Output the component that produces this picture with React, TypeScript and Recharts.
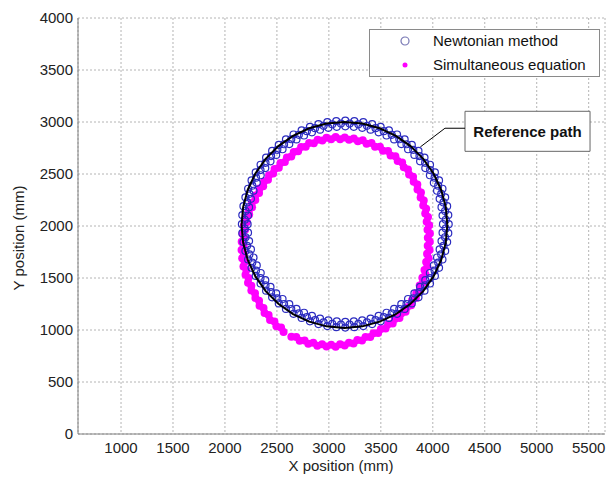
import { ScatterChart, Scatter, XAxis, YAxis, CartesianGrid, ReferenceArea, ReferenceLine, Legend } from 'recharts';

// values, in mm
const xTicks = [1000, 1500, 2000, 2500, 3000, 3500, 4000, 4500, 5000, 5500];
const yTicks = [0, 500, 1000, 1500, 2000, 2500, 3000, 3500, 4000];

const referencePath: [number, number][] = [
  [4140, 2010], [4125, 2182], [4080, 2349], [4007, 2505], [3908, 2646], [3786, 2768],
  [3645, 2867], [3489, 2940], [3322, 2985], [3150, 3000], [2978, 2985], [2811, 2940],
  [2655, 2867], [2514, 2768], [2392, 2646], [2293, 2505], [2220, 2349], [2175, 2182],
  [2160, 2010], [2175, 1838], [2220, 1671], [2293, 1515], [2392, 1374], [2514, 1252],
  [2655, 1153], [2811, 1080], [2978, 1035], [3150, 1020], [3322, 1035], [3489, 1080],
  [3645, 1153], [3786, 1252], [3908, 1374], [4007, 1515], [4080, 1671], [4125, 1838],
  [4140, 2010],
];

const newtonianOuter: [number, number][] = [
  [4153, 2018], [4149, 2105], [4138, 2191], [4119, 2276], [4093, 2358], [4060, 2438],
  [4020, 2516], [3973, 2589], [3920, 2658], [3862, 2722], [3798, 2780], [3729, 2833],
  [3656, 2880], [3578, 2920], [3498, 2953], [3416, 2979], [3331, 2998], [3245, 3009],
  [3158, 3013], [3071, 3009], [2985, 2998], [2900, 2979], [2818, 2953], [2738, 2920],
  [2660, 2880], [2587, 2833], [2518, 2780], [2454, 2722], [2396, 2658], [2343, 2589],
  [2296, 2516], [2256, 2438], [2223, 2358], [2197, 2276], [2178, 2191], [2167, 2105],
  [2163, 2018], [2167, 1931], [2178, 1845], [2197, 1760], [2223, 1678], [2256, 1598],
  [2296, 1520], [2343, 1447], [2396, 1378], [2454, 1314], [2518, 1256], [2587, 1203],
  [2660, 1156], [2738, 1116], [2818, 1083], [2900, 1057], [2985, 1038], [3071, 1027],
  [3158, 1023], [3245, 1027], [3331, 1038], [3416, 1057], [3498, 1083], [3578, 1116],
  [3656, 1156], [3729, 1203], [3798, 1256], [3862, 1314], [3920, 1378], [3973, 1447],
  [4020, 1520], [4060, 1598], [4093, 1678], [4119, 1760], [4138, 1845], [4149, 1931],
];

const newtonianMid: [number, number][] = [
  [4125, 2060], [4118, 2144], [4103, 2227], [4081, 2309], [4052, 2388], [4017, 2465],
  [3974, 2538], [3926, 2607], [3872, 2672], [3812, 2732], [3747, 2786], [3678, 2834],
  [3605, 2877], [3528, 2912], [3449, 2941], [3367, 2963], [3284, 2978], [3200, 2985],
  [3116, 2985], [3032, 2978], [2949, 2963], [2867, 2941], [2788, 2912], [2711, 2877],
  [2638, 2834], [2569, 2786], [2504, 2732], [2444, 2672], [2390, 2607], [2342, 2538],
  [2299, 2465], [2264, 2388], [2235, 2309], [2213, 2227], [2198, 2144], [2191, 2060],
  [2191, 1976], [2198, 1892], [2213, 1809], [2235, 1727], [2264, 1648], [2299, 1571],
  [2342, 1498], [2390, 1429], [2444, 1364], [2504, 1304], [2569, 1250], [2638, 1202],
  [2711, 1159], [2788, 1124], [2867, 1095], [2949, 1073], [3032, 1058], [3116, 1051],
  [3200, 1051], [3284, 1058], [3367, 1073], [3449, 1095], [3528, 1124], [3605, 1159],
  [3678, 1202], [3747, 1250], [3812, 1304], [3872, 1364], [3926, 1429], [3974, 1498],
  [4017, 1571], [4052, 1648], [4081, 1727], [4103, 1809], [4118, 1892], [4125, 1976],
];

const newtonianInner: [number, number][] = [
  [4098, 2018], [4094, 2100], [4084, 2181], [4066, 2261], [4041, 2339], [4010, 2415],
  [3972, 2488], [3928, 2557], [3878, 2622], [3823, 2683], [3762, 2738], [3697, 2788],
  [3628, 2832], [3555, 2870], [3479, 2901], [3401, 2926], [3321, 2944], [3240, 2954],
  [3158, 2958], [3076, 2954], [2995, 2944], [2915, 2926], [2837, 2901], [2761, 2870],
  [2688, 2832], [2619, 2788], [2554, 2738], [2493, 2683], [2438, 2622], [2388, 2557],
  [2344, 2488], [2306, 2415], [2275, 2339], [2250, 2261], [2232, 2181], [2222, 2100],
  [2218, 2018], [2222, 1936], [2232, 1855], [2250, 1775], [2275, 1697], [2306, 1621],
  [2344, 1548], [2388, 1479], [2438, 1414], [2493, 1353], [2554, 1298], [2619, 1248],
  [2688, 1204], [2761, 1166], [2837, 1135], [2915, 1110], [2995, 1092], [3076, 1082],
  [3158, 1078], [3240, 1082], [3321, 1092], [3401, 1110], [3479, 1135], [3555, 1166],
  [3628, 1204], [3697, 1248], [3762, 1298], [3823, 1353], [3878, 1414], [3928, 1479],
  [3972, 1548], [4010, 1621], [4041, 1697], [4066, 1775], [4084, 1855], [4094, 1936],
];

const simultaneousOuter: [number, number][] = [
  [3971, 1848], [3972, 1927], [3965, 2007], [3954, 2086], [3936, 2165], [3913, 2244],
  [3886, 2322], [3851, 2399], [3810, 2473], [3761, 2544], [3705, 2611], [3640, 2670],
  [3569, 2720], [3491, 2762], [3410, 2797], [3326, 2824], [3240, 2842], [3153, 2852],
  [3065, 2856], [2977, 2849], [2892, 2829], [2810, 2798], [2733, 2760], [2662, 2712],
  [2596, 2659], [2535, 2605], [2477, 2548], [2424, 2489], [2376, 2427], [2332, 2361],
  [2292, 2294], [2258, 2224], [2229, 2152], [2202, 2079], [2182, 2004], [2168, 1926],
  [2161, 1848], [2160, 1769], [2166, 1689], [2178, 1610], [2198, 1532], [2222, 1455],
  [2254, 1379], [2293, 1307], [2333, 1234], [2381, 1164], [2434, 1097], [2495, 1035],
  [2564, 980], [2639, 934], [2719, 896], [2802, 868], [2889, 849], [2977, 841],
  [3065, 839], [3152, 850], [3237, 870], [3319, 898], [3398, 932], [3474, 971],
  [3546, 1015], [3614, 1063], [3679, 1116], [3738, 1175], [3792, 1238], [3837, 1307],
  [3876, 1380], [3906, 1456], [3930, 1533], [3948, 1611], [3960, 1690], [3969, 1769],
];

const simultaneousInner: [number, number][] = [
  [3952, 1887], [3949, 1964], [3941, 2042], [3927, 2120], [3908, 2197], [3883, 2274],
  [3853, 2350], [3816, 2425], [3772, 2496], [3721, 2564], [3662, 2626], [3594, 2679],
  [3521, 2724], [3444, 2763], [3363, 2792], [3279, 2815], [3194, 2829], [3108, 2835],
  [3022, 2834], [2937, 2821], [2855, 2795], [2777, 2761], [2704, 2718], [2638, 2668],
  [2576, 2616], [2518, 2561], [2464, 2504], [2414, 2445], [2368, 2383], [2328, 2318],
  [2292, 2250], [2261, 2181], [2233, 2110], [2211, 2037], [2194, 1963], [2184, 1886],
  [2180, 1809], [2182, 1732], [2190, 1654], [2206, 1577], [2227, 1501], [2254, 1426],
  [2289, 1354], [2328, 1282], [2371, 1212], [2420, 1145], [2476, 1081], [2540, 1023],
  [2686, 932], [2766, 900], [2850, 877], [2935, 864], [3022, 859],
  [3108, 863], [3193, 878], [3274, 903], [3353, 933], [3429, 968], [3501, 1010],
  [3570, 1055], [3635, 1105], [3696, 1159], [3752, 1219], [3800, 1285], [3841, 1354],
  [3874, 1427], [3900, 1502], [3920, 1578], [3936, 1655], [3945, 1732], [3951, 1809],
];

const toPoints = (pts: [number, number][]) => pts.map(([x, y]) => ({ x, y }));
const newtonianData = [...toPoints(newtonianOuter), ...toPoints(newtonianMid), ...toPoints(newtonianInner)];
const simultaneousData = [...toPoints(simultaneousOuter), ...toPoints(simultaneousInner)];
const referenceData = toPoints(referencePath);

const FONT = '"Liberation Sans", Arial, sans-serif';
const BLUE = '#2c2cc0';
const MAGENTA = '#ff00ff';

function LegendBox() {
  return (
    <div
      style={{
        width: 229,
        height: 46,
        border: '1px solid #8a8a8a',
        background: '#fff',
        fontFamily: FONT,
        fontSize: 15,
        color: '#111',
        position: 'relative',
      }}
    >
      <svg width={20} height={46} style={{ position: 'absolute', left: 25, top: 0 }}>
        <circle cx={10} cy={11} r={4} fill="none" stroke="#7878b4" strokeWidth={1.2} />
        <circle cx={10} cy={35} r={2.5} fill={MAGENTA} />
      </svg>
      <div style={{ position: 'absolute', left: 63, top: 2, lineHeight: '18px' }}>Newtonian method</div>
      <div style={{ position: 'absolute', left: 63, top: 26, lineHeight: '18px' }}>Simultaneous equation</div>
    </div>
  );
}

export default function App() {
  return (
    <div style={{ position: 'absolute', left: 0, top: 0, background: '#fff' }}>
      <ScatterChart width={614} height={478} margin={{ top: 18, right: 9, left: 0, bottom: 0 }}>
        <CartesianGrid stroke="#b4b4b4" strokeDasharray="2 2" />
        <XAxis
          type="number"
          dataKey="x"
          domain={[586, 5657]}
          ticks={xTicks}
          allowDataOverflow
          height={44}
          stroke="#808080"
          tickLine={false}
          tickSize={6}
          tickMargin={2}
          tick={{ fontSize: 15, fill: '#222', fontFamily: FONT }}
          label={{
            content: () => (
              <text x={341} y={471} textAnchor="middle" fontSize={15} fill="#222" fontFamily={FONT}>
                X position (mm)
              </text>
            ),
          }}
        />
        <XAxis xAxisId="top" type="number" orientation="top" domain={[586, 5657]} height={0} tick={false} tickLine={false} stroke="#808080" />
        <YAxis
          type="number"
          dataKey="y"
          domain={[0, 4000]}
          ticks={yTicks}
          width={78}
          stroke="#808080"
          tickLine={false}
          tickSize={3}
          tickMargin={2}
          tick={{ fontSize: 15, fill: '#222', fontFamily: FONT }}
          label={{
            content: () => (
              <text
                x={18}
                y={238}
                transform="rotate(-90 18 238)"
                textAnchor="middle"
                dominantBaseline="central"
                fontSize={15}
                fill="#222"
                fontFamily={FONT}
              >
                Y position (mm)
              </text>
            ),
          }}
        />
        <YAxis yAxisId="right" type="number" orientation="right" domain={[0, 4000]} width={0} tick={false} tickLine={false} stroke="#808080" />
        <Scatter
          name="Simultaneous equation"
          data={simultaneousData}
          isAnimationActive={false}
          shape={(p: any) => <circle cx={p.cx} cy={p.cy} r={4} fill={MAGENTA} />}
        />
        <Scatter
          name="Newtonian method"
          data={newtonianData}
          isAnimationActive={false}
          shape={(p: any) => <circle cx={p.cx} cy={p.cy} r={3.5} fill="none" stroke={BLUE} strokeWidth={1.2} />}
        />
        <Scatter
          name="Reference path"
          data={referenceData}
          isAnimationActive={false}
          line={{ stroke: '#000', strokeWidth: 2 }}
          lineType="joint"
          shape={() => <g />}
        />
        <ReferenceLine
          segment={[{ x: 4310, y: 2940 }, { x: 4117, y: 2940 }]}
          stroke="#000"
          strokeWidth={1}
          ifOverflow="visible"
        />
        <ReferenceLine
          segment={[{ x: 4117, y: 2940 }, { x: 3880, y: 2760 }]}
          stroke="#000"
          strokeWidth={1}
          ifOverflow="visible"
        />
        <ReferenceArea
          x1={4310}
          x2={5513}
          y1={2718}
          y2={3103}
          fill="#fff"
          fillOpacity={1}
          stroke="#666"
          strokeWidth={1}
          ifOverflow="visible"
          label={{ value: 'Reference path', position: 'center', fontSize: 15, fontWeight: 'bold', fill: '#111', fontFamily: FONT }}
        />
        <Legend
          layout="vertical"
          align="center"
          verticalAlign="middle"
          wrapperStyle={{ left: 369, top: 29, width: 231, height: 48 }}
          content={() => <LegendBox />}
        />
      </ScatterChart>
    </div>
  );
}
